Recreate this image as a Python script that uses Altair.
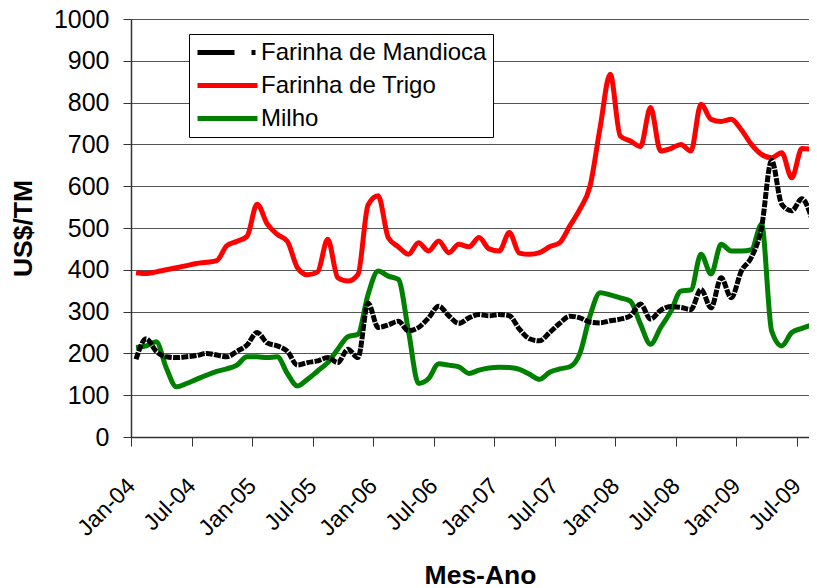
import altair as alt
import pandas as pd

# Monthly categories Jan-04 .. Aug-09
meses = list(pd.date_range("2004-01-01", periods=68, freq="MS").strftime("%b-%y"))

series = ["Farinha de Mandioca", "Farinha de Trigo", "Milho"]
cores = ["#000000", "#FF0000", "#008000"]

mandioca = [186, 235, 205, 192, 190, 192, 195, 200, 196, 192,
            205, 220, 250, 225, 218, 205, 172, 178, 182, 190,
            178, 210, 190, 320, 262, 268, 277, 254, 262, 285,
            313, 290, 272, 285, 293, 290, 293, 290, 258, 235,
            230, 250, 272, 289, 285, 275, 273, 278, 282, 290,
            318, 282, 303, 312, 310, 305, 353, 309, 381, 333,
            397, 430, 501, 662, 557, 541, 570, 521]

trigo = [393, 391, 395, 400, 405, 410, 415, 418, 422, 458,
         468, 480, 557, 510, 485, 468, 405, 388, 395, 473,
         381, 373, 389, 555, 577, 477, 455, 437, 465, 445,
         469, 441, 461, 455, 477, 450, 445, 489, 440, 437,
         441, 455, 465, 505, 545, 600, 740, 868, 720, 708,
         695, 788, 684, 690, 700, 684, 796, 760, 755, 760,
         735, 700, 676, 668, 680, 620, 690, 688]

milho = [214, 218, 228, 165, 120, 128, 138, 148, 157, 163,
         172, 192, 192, 190, 192, 152, 122, 138, 158, 178,
         210, 240, 246, 341, 397, 385, 377, 254, 128, 140,
         175, 172, 168, 152, 160, 165, 167, 166, 162, 150,
         138, 155, 163, 168, 200, 290, 345, 340, 333, 325,
         270, 222, 262, 300, 349, 352, 437, 390, 461, 445,
         445, 448, 509, 254, 218, 250, 260, 268]

tick_labels = ["Jan-04", "Jul-04", "Jan-05", "Jul-05", "Jan-06", "Jul-06",
               "Jan-07", "Jul-07", "Jan-08", "Jul-08", "Jan-09", "Jul-09"]

rows = []
for nome, vals in zip(series, [mandioca, trigo, milho]):
    for i, v in enumerate(vals):
        rows.append({"pos": i + 0.5, "mes": meses[i], "serie": nome, "valor": v})
df = pd.DataFrame(rows)

FONT = "Liberation Sans"
PLOT_W = 678
X_MAX = PLOT_W / (686 / 68)   # same pixels per month as the reference, cropped at right

x_enc = alt.X(
    "pos:Q",
    scale=alt.Scale(domain=[0, X_MAX], nice=False, zero=False),
    axis=alt.Axis(
        values=list(range(0, 67, 6)),
        labelExpr=f"{tick_labels}[round(datum.value / 6)]",
        labelAngle=-45, labelAlign="right", labelBaseline="middle",
        labelFont=FONT, labelFontSize=23, labelColor="black", labelPadding=36,
        tickSize=9, tickColor="#333333", domainColor="#333333", domainWidth=1.5,
        grid=False, title="Mes-Ano", titleFont=FONT, titleFontSize=26.5,
        titleFontWeight="bold", titleColor="black", titleX=349, titleY=138,
        titleBaseline="middle", labelOverlap=False, labelBound=False,
    ),
)
y_enc = alt.Y(
    "valor:Q",
    scale=alt.Scale(domain=[0, 1000], nice=False),
    axis=alt.Axis(
        values=list(range(0, 1001, 100)), format="d",
        labelFont=FONT, labelFontSize=25, labelColor="black", labelPadding=14,
        tickSize=8, tickColor="#333333", domainColor="#333333", domainWidth=1.5,
        grid=True, gridColor="#555555", gridWidth=1.2,
        title="US$/TM", titleFont=FONT, titleFontSize=26.5, titleFontWeight="bold",
        titleColor="black", titleX=-108, titleY=209, titleAngle=-90,
        titleAlign="center", titleBaseline="middle",
    ),
)

color_scale = alt.Scale(domain=series, range=cores)

legend = alt.Legend(
    title=None, orient="none", legendX=58, legendY=15, direction="vertical",
    fillColor="white", strokeColor="black", padding=6, cornerRadius=0,
    labelFont=FONT, labelFontSize=24, labelColor="black", labelOffset=21,
    labelLimit=0,
    symbolType="M-3,0H3", symbolSize=400, symbolStrokeWidth=5, symbolOffset=20,
    rowPadding=8,
)

base = alt.Chart(df)

legend_layer = base.transform_filter("datum.valor < 0").mark_line(strokeWidth=5).encode(
    x=x_enc, y=y_enc,
    color=alt.Color("serie:N", scale=color_scale, legend=legend),
    strokeDash=alt.StrokeDash(
        "serie:N",
        scale=alt.Scale(domain=series, range=[[37, 17, 4, 17], [1, 0], [1, 0]]),
        legend=legend,
    ),
)

solid = base.transform_filter(
    alt.FieldOneOfPredicate(field="serie", oneOf=["Milho", "Farinha de Trigo"])
).mark_line(strokeWidth=5, interpolate="monotone", clip=True).encode(
    x=x_enc, y=y_enc,
    color=alt.Color("serie:N", scale=color_scale, legend=None),
    order=alt.Order("pos:Q"),
)

dashed = base.transform_filter(
    alt.FieldEqualPredicate(field="serie", equal="Farinha de Mandioca")
).mark_line(strokeWidth=5, interpolate="monotone", strokeDash=[7, 1.3], clip=True).encode(
    x=x_enc, y=y_enc,
    color=alt.Color("serie:N", scale=color_scale, legend=None),
    order=alt.Order("pos:Q"),
)

chart = alt.layer(legend_layer, solid, dashed).properties(
    width=PLOT_W, height=418,
    autosize=alt.AutoSizeParams(type="none"),
    padding={"left": 123, "top": 11, "right": 0, "bottom": 151},
    background="white",
).configure_view(stroke=None)

chart.save("out.html", embed_options={"renderer": "svg", "actions": False})
